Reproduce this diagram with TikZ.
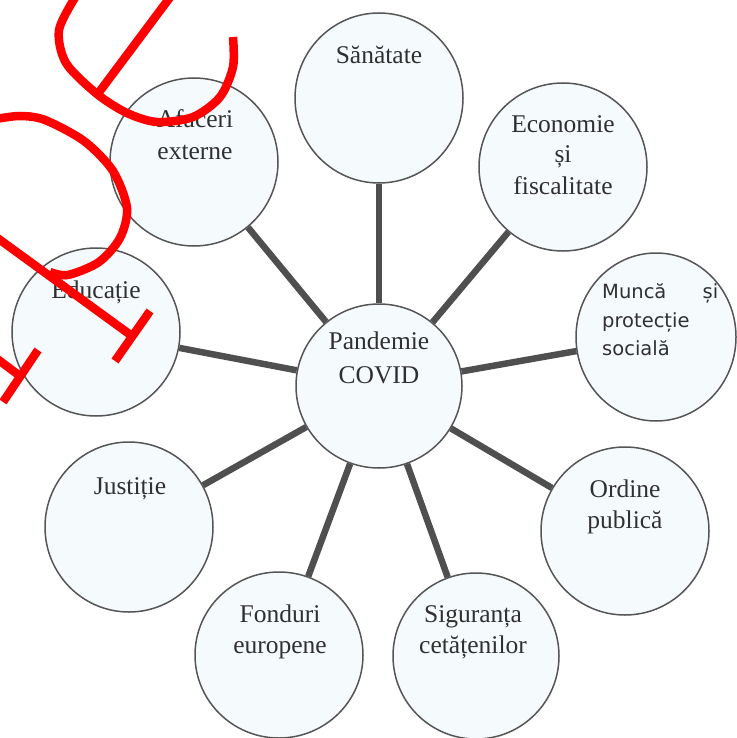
\documentclass[tikz,border=0pt]{standalone}
\usepackage{fontspec}
\setmainfont{Liberation Serif}
\newfontfamily\munfont{DejaVu Sans}
\usetikzlibrary{shapes.geometric}
\definecolor{bubfill}{HTML}{F5FAFD}
\definecolor{bubedge}{HTML}{555555}
\definecolor{linkc}{HTML}{4F4F4F}
\definecolor{txtc}{HTML}{303030}
\begin{document}
\begin{tikzpicture}[x=1pt,y=-1pt,
  bub/.style={ellipse,draw=bubedge,line width=1.5pt,fill=bubfill,inner sep=0pt},
  lab/.style={anchor=base,inner sep=0pt,text=txtc,font=\fontsize{25.5}{31}\selectfont},
  slab/.style={anchor=base west,inner sep=0pt,text=txtc,font=\munfont\fontsize{19.5}{28}\selectfont},
  link/.style={draw=linkc,line width=6.5pt},
  pen/.style={draw=red,line width=8.5pt}]
\useasboundingbox (0,0) rectangle (736,738);

% bubbles
\node[bub,minimum width=166pt,minimum height=164pt] (cen) at (379,386) {};
\node[bub,minimum width=168pt,minimum height=170pt] (san) at (379,98) {};
\node[bub,minimum width=168pt,minimum height=168pt] (eco) at (563,167) {};
\node[bub,minimum width=160pt,minimum height=168pt] (mun) at (656,337) {};
\node[bub,minimum width=168pt,minimum height=168pt] (ord) at (625,531) {};
\node[bub,minimum width=166pt,minimum height=166pt] (sig) at (476,656) {};
\node[bub,minimum width=168pt,minimum height=166pt] (fon) at (279,655) {};
\node[bub,minimum width=168pt,minimum height=170pt] (jus) at (129,527) {};
\node[bub,minimum width=168pt,minimum height=168pt] (edu) at (96,332) {};
\node[bub,minimum width=168pt,minimum height=168pt] (afa) at (194,162) {};

% connectors
\foreach \t in {san,eco,mun,ord,sig,fon,jus,edu,afa}
  \draw[link] (cen) -- (\t);

% labels
\node[lab] (t-cen1) at (379,349) {Pandemie};
\node[lab] (t-cen2) at (379,383) {COVID};
\node[lab] (t-san) at (379,64) {Sănătate};
\node[lab] (t-eco1) at (563,133) {Economie};
\node[lab] (t-eco2) at (563,163) {și};
\node[lab] (t-eco3) at (563,194) {fiscalitate};
\node[slab] (t-mun1) at (602,298) {\hbox to 116pt{Muncă\hfill și}};
\node[slab] (t-mun2) at (602,327) {protecție};
\node[slab] (t-mun3) at (602,355) {socială};
\node[lab] (t-ord1) at (625,497) {Ordine};
\node[lab] (t-ord2) at (625,528) {publică};
\node[lab] (t-sig1) at (473,622) {Siguranța};
\node[lab] (t-sig2) at (473,653) {cetățenilor};
\node[lab] (t-fon1) at (280,622) {Fonduri};
\node[lab] (t-fon2) at (280,653) {europene};
\node[lab] (t-jus) at (130,494) {Justiție};
\node[lab] (t-edu) at (96,298) {Educație};
\node[lab] (t-afa1) at (195,128) {Afaceri};
\node[lab] (t-afa2) at (195,160) {externe};

% red pen marks
\draw[pen] plot[smooth] coordinates {(76,-4) (59,30) (66,63) (97,94) (127,113) (157,122) (193,117) (220,97) (233,67) (233,37)};
\draw[pen] (97,95) -- (171,-4);
\draw[pen] plot[smooth] coordinates {(-4,119) (20,116) (45,120) (84,141) (113,171) (127,208) (120,238) (99,262) (68,275) (50,272)};
\draw[pen] (-4,237) -- (132,336);
\draw[pen] (150,311) -- (115,361);
\draw[pen] (38,350) -- (3,402);
\draw[pen] (-4,358) -- (20,376);
\end{tikzpicture}
\end{document}
